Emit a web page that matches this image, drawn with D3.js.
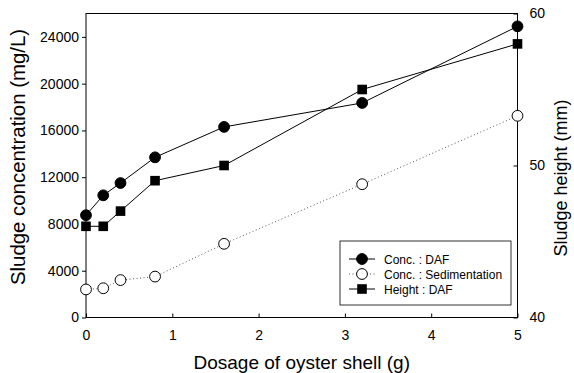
<!DOCTYPE html>
<html>
<head>
<meta charset="utf-8">
<script src="https://cdn.jsdelivr.net/npm/d3@7"></script>
<style>
  body { margin: 0; background: #fff; }
  svg { display: block; font-family: "Liberation Sans", Arial, sans-serif; }
</style>
</head>
<body>
<div id="chart"></div>
<script>
var w = 574, h = 373;

// data
var dose = [0, 0.2, 0.4, 0.8, 1.6, 3.2, 5];
var concDAF = [8750, 10450, 11500, 13700, 16300, 18350, 24900];
var concSed = [2400, 2500, 3200, 3500, 6300, 11400, 17250];
var heightDAF = [46, 46, 47, 49, 50, 55, 58];

var xTicks = [0, 1, 2, 3, 4, 5];
var yLeftTicks = [0, 4000, 8000, 12000, 16000, 20000, 24000];
var yRightTicks = [40, 50, 60];
var legendLabels = ['Conc. : DAF', 'Conc. : Sedimentation', 'Height : DAF'];

var plot = {left: 86, right: 517.5, top: 13.5, bottom: 317.5};

var x = d3.scaleLinear().domain([0, 5]).range([plot.left, plot.right]);
var yL = d3.scaleLinear().domain([0, 26000]).range([plot.bottom, plot.top]);
var yR = d3.scaleLinear().domain([40, 60]).range([plot.bottom, plot.top]);

var svg = d3.select('#chart').append('svg')
  .attr('width', w)
  .attr('height', h);

// frame
svg.append('rect')
  .attr('x', plot.left).attr('y', plot.top)
  .attr('width', plot.right - plot.left)
  .attr('height', plot.bottom - plot.top)
  .attr('fill', 'none')
  .attr('stroke', '#000')
  .attr('stroke-width', 1);

var xAxis = d3.axisBottom(x).tickValues(xTicks).tickSize(-4).tickPadding(13).tickFormat(d3.format('d'));
var yLAxis = d3.axisLeft(yL).tickValues(yLeftTicks).tickSize(4).tickPadding(3).tickFormat(d3.format('d'));
var yRAxis = d3.axisRight(yR).tickValues(yRightTicks).tickSize(-4).tickPadding(12);

function styleAxis(g) {
  g.select('.domain').remove();
  g.selectAll('line').attr('stroke', '#000');
  g.selectAll('text')
    .attr('fill', '#000')
    .style('font-size', '14px');
}

svg.append('g')
  .attr('transform', 'translate(0,' + plot.bottom + ')')
  .call(xAxis).call(styleAxis);
svg.append('g')
  .attr('transform', 'translate(' + plot.left + ',0)')
  .call(yLAxis).call(styleAxis);
svg.append('g')
  .attr('transform', 'translate(' + plot.right + ',0)')
  .call(yRAxis).call(styleAxis);

// axis titles
svg.append('text')
  .attr('x', (plot.left + plot.right) / 2)
  .attr('y', 369)
  .attr('text-anchor', 'middle')
  .style('font-size', '19px')
  .text('Dosage of oyster shell (g)');
svg.append('text')
  .attr('transform', 'translate(25,157) rotate(-90)')
  .attr('text-anchor', 'middle')
  .style('font-size', '20.4px')
  .text('Sludge concentration (mg/L)');
svg.append('text')
  .attr('transform', 'translate(567,178) rotate(-90)')
  .attr('text-anchor', 'middle')
  .style('font-size', '18px')
  .text('Sludge height (mm)');

// series
var series = [
  {name: legendLabels[0], values: concDAF, y: yL, marker: 'circle', fill: '#000', dash: null},
  {name: legendLabels[1], values: concSed, y: yL, marker: 'circle', fill: '#fff', dash: '1,2.5'},
  {name: legendLabels[2], values: heightDAF, y: yR, marker: 'square', fill: '#000', dash: null}
];

function drawMarker(g, s, cx, cy) {
  if (s.marker === 'circle') {
    g.append('circle')
      .attr('cx', cx).attr('cy', cy).attr('r', 5.4)
      .attr('fill', s.fill)
      .attr('stroke', '#000').attr('stroke-width', 1);
  } else {
    g.append('rect')
      .attr('x', cx - 4.8).attr('y', cy - 4.8)
      .attr('width', 9.6).attr('height', 9.6)
      .attr('fill', s.fill);
  }
}

series.forEach(function(s) {
  var pts = dose.map(function(d, i) { return [x(d), s.y(s.values[i])]; });
  svg.append('path')
    .attr('d', d3.line()(pts))
    .attr('fill', 'none')
    .attr('stroke', s.dash ? '#555' : '#000')
    .attr('stroke-width', 1)
    .attr('stroke-dasharray', s.dash);
  var g = svg.append('g');
  pts.forEach(function(p) { drawMarker(g, s, p[0], p[1]); });
});

// legend
var lg = svg.append('g');
lg.append('rect')
  .attr('x', 340).attr('y', 241)
  .attr('width', 171).attr('height', 64)
  .attr('fill', '#fff')
  .attr('stroke', '#000').attr('stroke-width', 0.8);
series.forEach(function(s, i) {
  var ry = 259 + i * 15;
  lg.append('line')
    .attr('x1', 349).attr('x2', 375)
    .attr('y1', ry).attr('y2', ry)
    .attr('stroke', s.dash ? '#555' : '#000')
    .attr('stroke-dasharray', s.dash);
  drawMarker(lg, s, 362, ry);
  lg.append('text')
    .attr('x', 384).attr('y', ry + 4.5)
    .style('font-size', '12px')
    .text(s.name);
});
</script>
</body>
</html>
